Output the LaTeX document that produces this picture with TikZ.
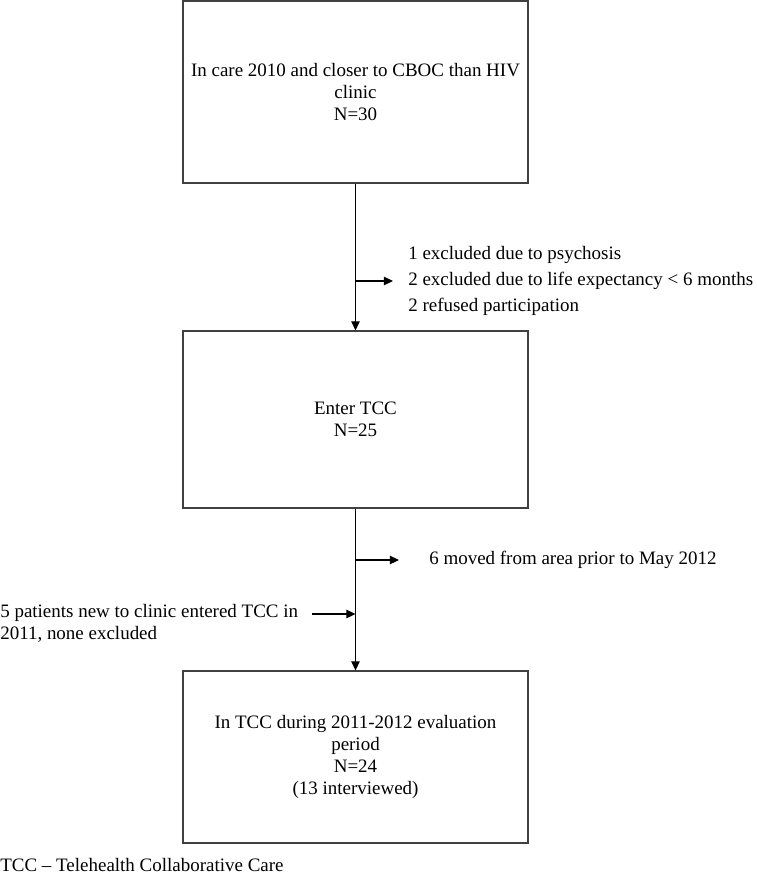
\documentclass[tikz,border=0pt]{standalone}
\usepackage{fontspec}
\setmainfont{Liberation Serif}
\usetikzlibrary{arrows.meta}

\begin{document}
\begin{tikzpicture}[
	box/.style={draw=black!75, line width=0.8pt, minimum width=8.625cm, align=center, font=\fontsize{13.5}{15.6}\selectfont},
	note/.style={align=left, inner sep=0pt, font=\fontsize{13.5}{15.6}\selectfont},
	flow/.style={line width=0.8pt, -{Triangle[length=6.5pt,width=6pt]}}
]

	\useasboundingbox (0,0) rectangle (18.9,-22.05);

	\node[box, minimum height=4.55cm] (care) at (8.8875,-2.3) {In care 2010 and closer to CBOC than HIV\\clinic\\N=30};
	\node[box, minimum height=4.425cm] (enter) at (8.8875,-10.4875) {Enter TCC\\N=25};
	\node[box, minimum height=4.3cm] (during) at (8.8875,-18.925) {In TCC during 2011-2012 evaluation\\period\\N=24\\(13 interviewed)};

	\draw[flow] (care) -- (enter);
	\draw[flow] (enter) -- (during);

	\coordinate (j1) at (care.south |- 0,-7.025);
	\node[note, anchor=west, font=\fontsize{13.5}{18.8}\selectfont] (excl) at (10.2,-7.025) {1 excluded due to psychosis\\2 excluded due to life expectancy < 6 months\\2 refused participation};
	\draw[flow, shorten >=0.375cm] (j1) -- (excl.west);

	\coordinate (j2) at (enter.south |- 0,-14.0);
	\node[note, anchor=west] (moved) at (10.725,-14.0) {6 moved from area prior to May 2012};
	\draw[flow, shorten >=0.75cm] (j2) -- (moved.west);

	\node[note, anchor=north west] (newpts) at (0,-15.1) {5 patients new to clinic entered TCC in\\2011, none excluded};
	\coordinate (src) at (7.8,-15.35);
	\coordinate (j3) at (enter.south |- 0,-15.35);
	\draw[flow] (src) -- (j3);

	\node[note, anchor=west] (tccnote) at (0,-21.625) {TCC – Telehealth Collaborative Care};

\end{tikzpicture}
\end{document}
